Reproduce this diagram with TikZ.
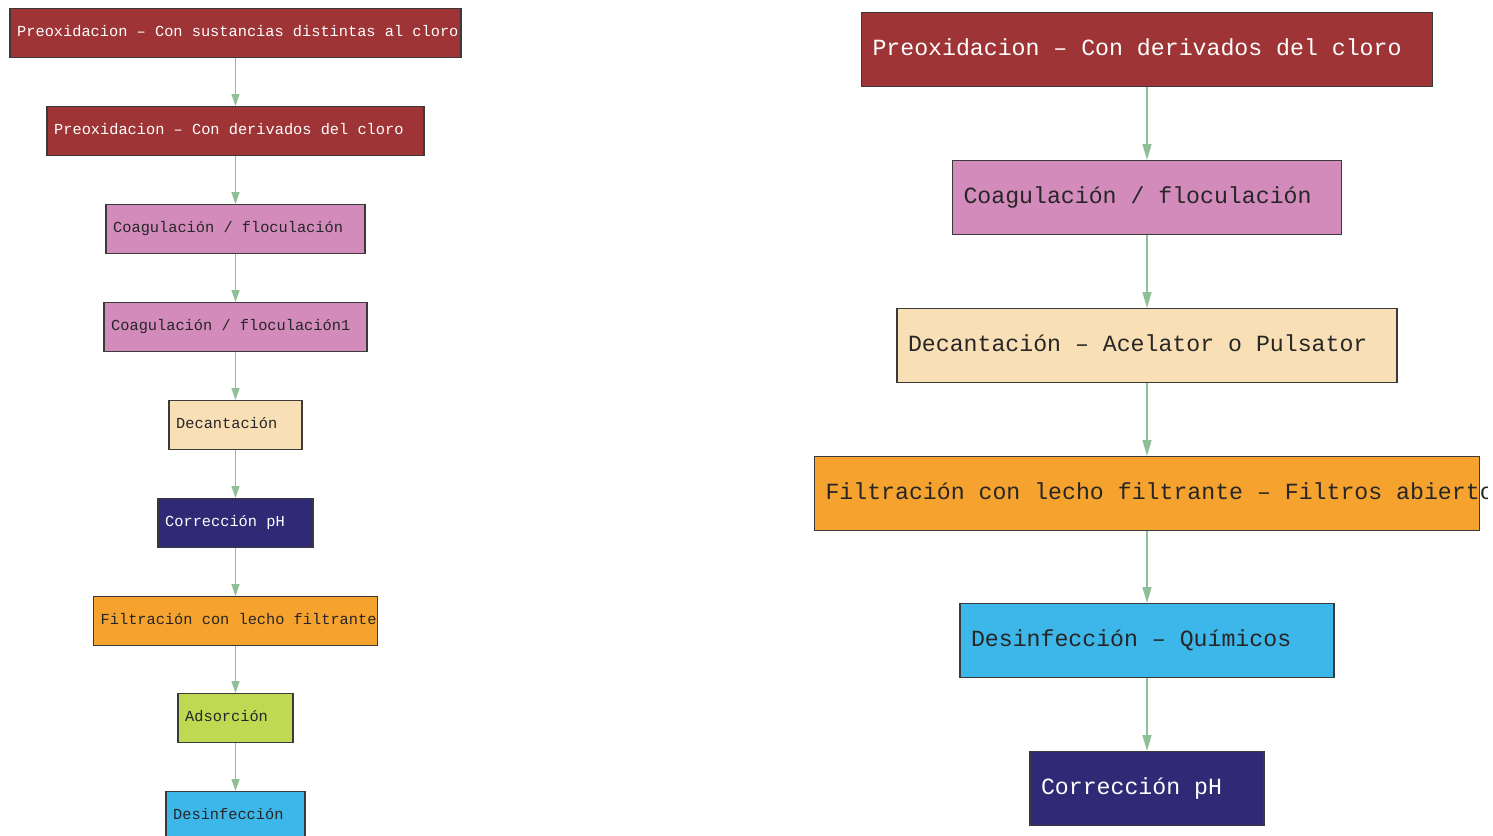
\documentclass[tikz,border=0pt]{standalone}
\usepackage{fontspec}
\newfontfamily\stagefont{Liberation Mono}
\usetikzlibrary{arrows.meta}
\definecolor{preoxred}{HTML}{9E3436}
\definecolor{coagpink}{HTML}{D38BBB}
\definecolor{decpeach}{HTML}{F9DFB6}
\definecolor{filtorange}{HTML}{F5A22F}
\definecolor{desblue}{HTML}{3DB7E9}
\definecolor{phnavy}{HTML}{2E2A75}
\definecolor{adsgreen}{HTML}{C0D952}
\definecolor{flowgreen}{HTML}{8FBF96}
\definecolor{boxline}{HTML}{3A3A3A}
\begin{document}
\begin{tikzpicture}[x=0.5pt, y=-0.5pt,
    stage/.style={draw=boxline, line width=0.6pt, anchor=north, align=left, text=black!85,
        execute at begin node={\spaceskip=0.6em\xspaceskip=0.6em\relax}},
    lstage/.style={stage, minimum height=24.5pt, inner xsep=3.6pt, inner ysep=0pt,
        text height=5.5pt, text depth=2.5pt,
        font=\stagefont\fontsize{7.66}{9}\selectfont},
    rstage/.style={stage, minimum height=37pt, inner xsep=5.5pt, inner ysep=0pt,
        text height=8.5pt, text depth=2.5pt,
        font=\stagefont\fontsize{11.6}{13}\selectfont},
    lflow/.style={-{Triangle[width=4pt, length=6pt]}, flowgreen, line width=0.75pt},
    rflow/.style={-{Triangle[width=4.5pt, length=8pt]}, flowgreen, line width=0.75pt}]
    \useasboundingbox (0,0) rectangle (1493,835);
    \clip (0,0) rectangle (1487,835);
    % left chain
    \node[lstage, fill=preoxred, text=white, text width=218.3pt] (l1) at (235.5,8)
        {\mbox{Preoxidacion – Con sustancias distintas al cloro}};
    \node[lstage, fill=preoxred, text=white, text width=181.3pt] (l2) at (235.5,106)
        {Preoxidacion – Con derivados del cloro};
    \node[lstage, fill=coagpink, text width=122.3pt] (l3) at (235.5,204) {Coagulación / floculación};
    \node[lstage, fill=coagpink, text width=124.3pt] (l4) at (235.5,302) {Coagulación / floculación1};
    \node[lstage, fill=decpeach, text width=59.3pt] (l5) at (235.5,400) {Decantación};
    \node[lstage, fill=phnavy, text=white, text width=70.3pt] (l6) at (235.5,498) {Corrección pH};
    \node[lstage, fill=filtorange, text width=134.8pt] (l7) at (235.5,596)
        {\mbox{Filtración con lecho filtrante}};
    \node[lstage, fill=adsgreen, text width=50.3pt] (l8) at (235.5,693) {Adsorción};
    \node[lstage, fill=desblue, text width=62.3pt] (l9) at (235.5,791) {Desinfección};
    \draw[lflow] (l1) -- (l2);
    \draw[lflow] (l2) -- (l3);
    \draw[lflow] (l3) -- (l4);
    \draw[lflow] (l4) -- (l5);
    \draw[lflow] (l5) -- (l6);
    \draw[lflow] (l6) -- (l7);
    \draw[lflow] (l7) -- (l8);
    \draw[lflow] (l8) -- (l9);
    % right chain
    \node[rstage, fill=preoxred, text=white, text width=274.5pt] (r1) at (1147,12)
        {Preoxidacion – Con derivados del cloro};
    \node[rstage, fill=coagpink, text width=183.5pt] (r2) at (1147,160) {Coagulación / floculación};
    \node[rstage, fill=decpeach, text width=239pt] (r3) at (1147,308) {Decantación – Acelator o Pulsator};
    \node[rstage, fill=filtorange, text width=321.5pt] (r4) at (1147,456)
        {\mbox{Filtración con lecho filtrante – Filtros abiertos}};
    \node[rstage, fill=desblue, text width=176pt] (r5) at (1147,603) {Desinfección – Químicos};
    \node[rstage, fill=phnavy, text=white, text width=106pt] (r6) at (1147,751) {Corrección pH};
    \draw[rflow] (r1) -- (r2);
    \draw[rflow] (r2) -- (r3);
    \draw[rflow] (r3) -- (r4);
    \draw[rflow] (r4) -- (r5);
    \draw[rflow] (r5) -- (r6);
\end{tikzpicture}
\end{document}
